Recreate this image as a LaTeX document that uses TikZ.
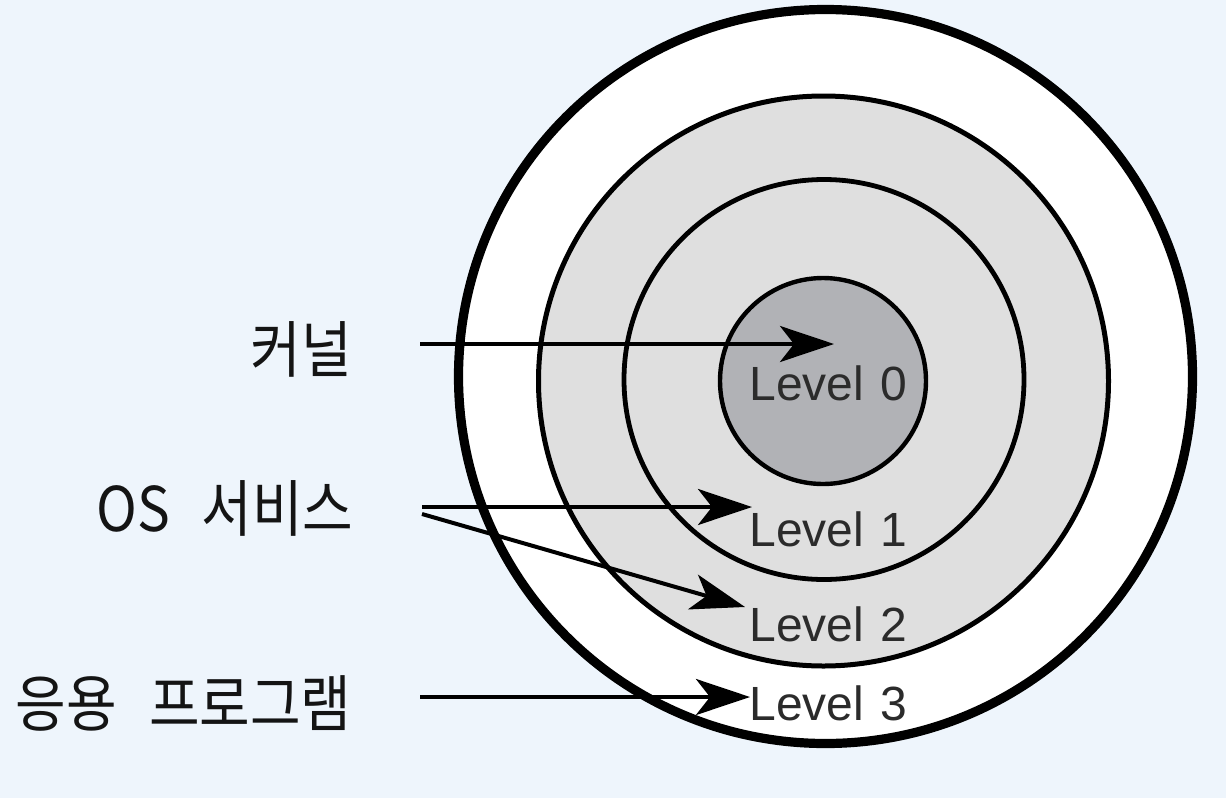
\documentclass[tikz,border=0pt]{standalone}
\usepackage{fontspec}
\setmainfont{Liberation Sans}
\newfontfamily\krfont{Noto Sans CJK KR}
\usetikzlibrary{arrows.meta}
\definecolor{bgblue}{HTML}{EEF5FC}
\definecolor{ringgray}{HTML}{DFDFDF}
\definecolor{coregray}{HTML}{B1B2B6}
\definecolor{lvltext}{HTML}{2B2B2B}
\newcommand{\krgap}{\hspace{16pt}}
\begin{document}
\begin{tikzpicture}[x=0.5pt,y=-0.5pt,
  ring/.style={circle, draw=black, inner sep=0pt, outer sep=0pt, minimum size=#1},
  lvl/.style={anchor=west, inner sep=0pt, text=lvltext, font=\fontsize{24pt}{28pt}\selectfont},
  krlabel/.style={anchor=east, inner sep=0pt, text=black!92, font=\krfont\fontsize{27.5pt}{31pt}\selectfont},
  pointer/.style={line width=2pt, -{Stealth[length=27pt, width=18pt, inset=7pt]}}]
\useasboundingbox (0,0) rectangle (1226,798);
\fill[bgblue] (0,0) rectangle (1226,798);
% rings
\node[ring=367pt, line width=4.6pt, fill=white] (l3) at (825.5,376.5) {};
\node[ring=285pt, line width=2.5pt, fill=ringgray] (l2) at (823.5,381) {};
\node[ring=200pt, line width=2.4pt, fill=ringgray] (l1) at (824,379.5) {};
\node[ring=103pt, line width=2.2pt, fill=coregray] (l0) at (823,381) {};
% level texts
\node[lvl] (t0) at (749,383) {Level\,\,0};
\node[lvl] (t1) at (749,529) {Level\,\,1};
\node[lvl] (t2) at (749,624) {Level\,\,2};
\node[lvl] (t3) at (749,703) {Level\,\,3};
% labels
\node[krlabel] (kernel) at (352,349) {\scalebox{1}[1.12]{커널}};
\node[krlabel] (os) at (354,508) {\scalebox{1}[1.12]{OS\krgap 서비스}};
\node[krlabel] (app) at (352,703) {\scalebox{1}[1.12]{응용\krgap 프로그램}};
% arrow endpoints
\coordinate (ks) at (420,344);
\coordinate (ke) at (834,344);
\coordinate (os1s) at (422,507);
\coordinate (os1e) at (752,507);
\coordinate (os2s) at (422,514);
\coordinate (os2e) at (745,607);
\coordinate (as) at (420,697);
\coordinate (ae) at (750,697);
\draw[pointer] (ks) -- (ke);
\draw[pointer] (os1s) -- (os1e);
\draw[pointer] (os2s) -- (os2e);
\draw[pointer] (as) -- (ae);
\end{tikzpicture}
\end{document}
